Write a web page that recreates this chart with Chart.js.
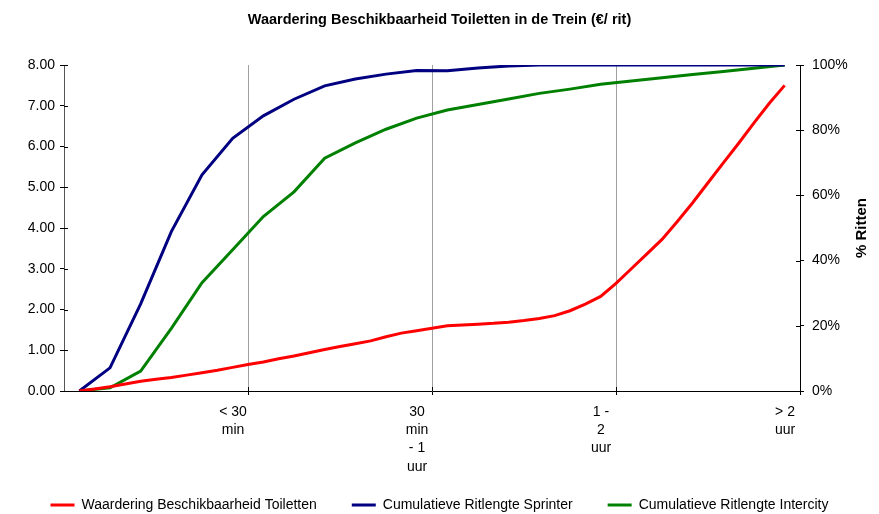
<!DOCTYPE html>
<html>
<head>
<meta charset="utf-8">
<script src="https://cdn.jsdelivr.net/npm/chart.js@4"></script>
<style>
  html, body { margin: 0; padding: 0; background: #fff; }
  #wrap { width: 879px; height: 514px; }
</style>
</head>
<body>
<div id="wrap"><canvas id="chart"></canvas></div>
<script>
// x-axis labels, shown at the end of every 6th step
const tickLabels = [["< 30", "min"], ["30", "min", "- 1", "uur"], ["1 -", "2", "uur"], ["> 2", "uur"]];
const tickPositions = [5.5, 11.5, 17.5, 23.5];

// Waardering (euro per rit), sampled every half step
const waardering = [
  0, 0.05, 0.105, 0.17, 0.24, 0.29, 0.33, 0.39, 0.45, 0.51,
  0.58, 0.65, 0.71, 0.79, 0.86, 0.94, 1.02, 1.09, 1.16, 1.23,
  1.33, 1.42, 1.48, 1.54, 1.60, 1.62, 1.64, 1.66, 1.69, 1.73,
  1.78, 1.85, 1.97, 2.13, 2.32, 2.64, 3.00, 3.36, 3.72, 4.16,
  4.62, 5.11, 5.60, 6.08, 6.58, 7.06, 7.50
];

// cumulative share of trips (%)
const sprinter = [0, 7.1, 26.7, 48.9, 66.3, 77.5, 84.4, 89.5, 93.6, 95.7, 97.2, 98.3,
  98.2, 99.1, 99.7, 100, 100, 100, 100, 100, 100, 100, 100, 100];
const intercity = [0, 1.0, 6.1, 19.2, 33.2, 43.3, 53.5, 61.1, 71.4, 76.1, 80.3, 83.7,
  86.2, 87.9, 89.6, 91.3, 92.6, 94.1, 95.1, 96.1, 97.1, 98.0, 99.0, 100];

const seriesNames = ["Waardering Beschikbaarheid Toiletten", "Cumulatieve Ritlengte Sprinter", "Cumulatieve Ritlengte Intercity"];

Chart.defaults.font.family = "'Liberation Sans', Arial, sans-serif";
Chart.defaults.font.size = 14;
Chart.defaults.color = "#000";

// right axis title, reading bottom to top
const rightTitle = {
  id: "rightTitle",
  afterDraw(chart) {
    const ctx = chart.ctx;
    ctx.save();
    ctx.translate(862, 228);
    ctx.rotate(-Math.PI / 2);
    ctx.font = "bold 15px 'Liberation Sans', Arial, sans-serif";
    ctx.fillStyle = "#000";
    ctx.textAlign = "center";
    ctx.textBaseline = "middle";
    ctx.fillText("% Ritten", 0, 0);
    ctx.restore();
  }
};

// small tick marks on the inside of the axes too
const innerTicks = {
  id: "innerTicks",
  afterDatasetsDraw(chart) {
    const ctx = chart.ctx;
    const { y, y1, x } = chart.scales;
    ctx.save();
    ctx.strokeStyle = "#000";
    ctx.lineWidth = 1;
    ctx.beginPath();
    y.ticks.forEach(t => { const p = Math.round(y.getPixelForValue(t.value)) + 0.5; ctx.moveTo(y.right, p); ctx.lineTo(y.right + 4, p); });
    y1.ticks.forEach(t => { const p = Math.round(y1.getPixelForValue(t.value)) + 0.5; ctx.moveTo(y1.left, p); ctx.lineTo(y1.left - 4, p); });
    x.ticks.forEach(t => { const p = Math.round(x.getPixelForValue(t.value)) + 0.5; ctx.moveTo(p, x.top); ctx.lineTo(p, x.top - 4); });
    ctx.stroke();
    ctx.restore();
  }
};

const ctx = document.getElementById("chart").getContext("2d");
new Chart(ctx, {
  type: "line",
  data: {
    datasets: [
      {
        label: seriesNames[0],
        data: waardering.map((v, i) => ({ x: i / 2, y: v })),
        borderColor: "#ff0000",
        backgroundColor: "#ff0000",
        borderWidth: 3,
        pointRadius: 0,
        yAxisID: "y"
      },
      {
        label: seriesNames[1],
        data: sprinter.map((v, i) => ({ x: i, y: v })),
        borderColor: "#000080",
        backgroundColor: "#000080",
        borderWidth: 3,
        pointRadius: 0,
        yAxisID: "y1"
      },
      {
        label: seriesNames[2],
        data: intercity.map((v, i) => ({ x: i, y: v })),
        borderColor: "#008000",
        backgroundColor: "#008000",
        borderWidth: 3,
        pointRadius: 0,
        yAxisID: "y1"
      }
    ]
  },
  options: {
    responsive: true,
    maintainAspectRatio: false,
    animation: false,
    layout: { padding: 0 },
    plugins: {
      title: {
        display: true,
        text: "Waardering Beschikbaarheid Toiletten in de Trein (€/ rit)",
        font: { size: 14.5, weight: "bold" },
        padding: { top: 11.3, bottom: 36.3 }
      },
      legend: {
        position: "bottom",
        maxHeight: 51,
        labels: {
          usePointStyle: true,
          pointStyle: "line",
          pointStyleWidth: 24,
          padding: 35,
          font: { size: 14 }
        }
      },
      tooltip: { enabled: false }
    },
    scales: {
      x: {
        type: "linear",
        min: -0.5,
        max: 23.5,
        afterBuildTicks: scale => { scale.ticks = tickPositions.map(v => ({ value: v })); },
        afterFit: scale => { scale.height = 72; },
        // the long label runs below the axis box, so don't clip it
        afterUpdate: scale => { scale._computeLabelArea = () => null; },
        ticks: {
          callback: (v, i) => tickLabels[i],
          labelOffset: -15,
          padding: 8,
          maxRotation: 0,
          autoSkip: false,
          font: { size: 14, lineHeight: 1.3 }
        },
        grid: { color: "#a0a0a0", tickColor: "#000", tickLength: 4 },
        border: { color: "#000" }
      },
      y: {
        position: "left",
        min: 0,
        max: 8,
        afterFit: scale => { scale.width = 64; },
        ticks: { stepSize: 1, padding: 5, callback: v => v.toFixed(2) },
        grid: { drawOnChartArea: false, tickColor: "#000", tickLength: 4 },
        border: { color: "#555" }
      },
      y1: {
        position: "right",
        min: 0,
        max: 100,
        afterFit: scale => { scale.width = 79; },
        ticks: { stepSize: 20, padding: 8, callback: v => v + "%" },
        grid: { drawOnChartArea: false, tickColor: "#000", tickLength: 4 },
        border: { color: "#000" }
      }
    }
  },
  plugins: [rightTitle, innerTicks]
});
</script>
</body>
</html>
